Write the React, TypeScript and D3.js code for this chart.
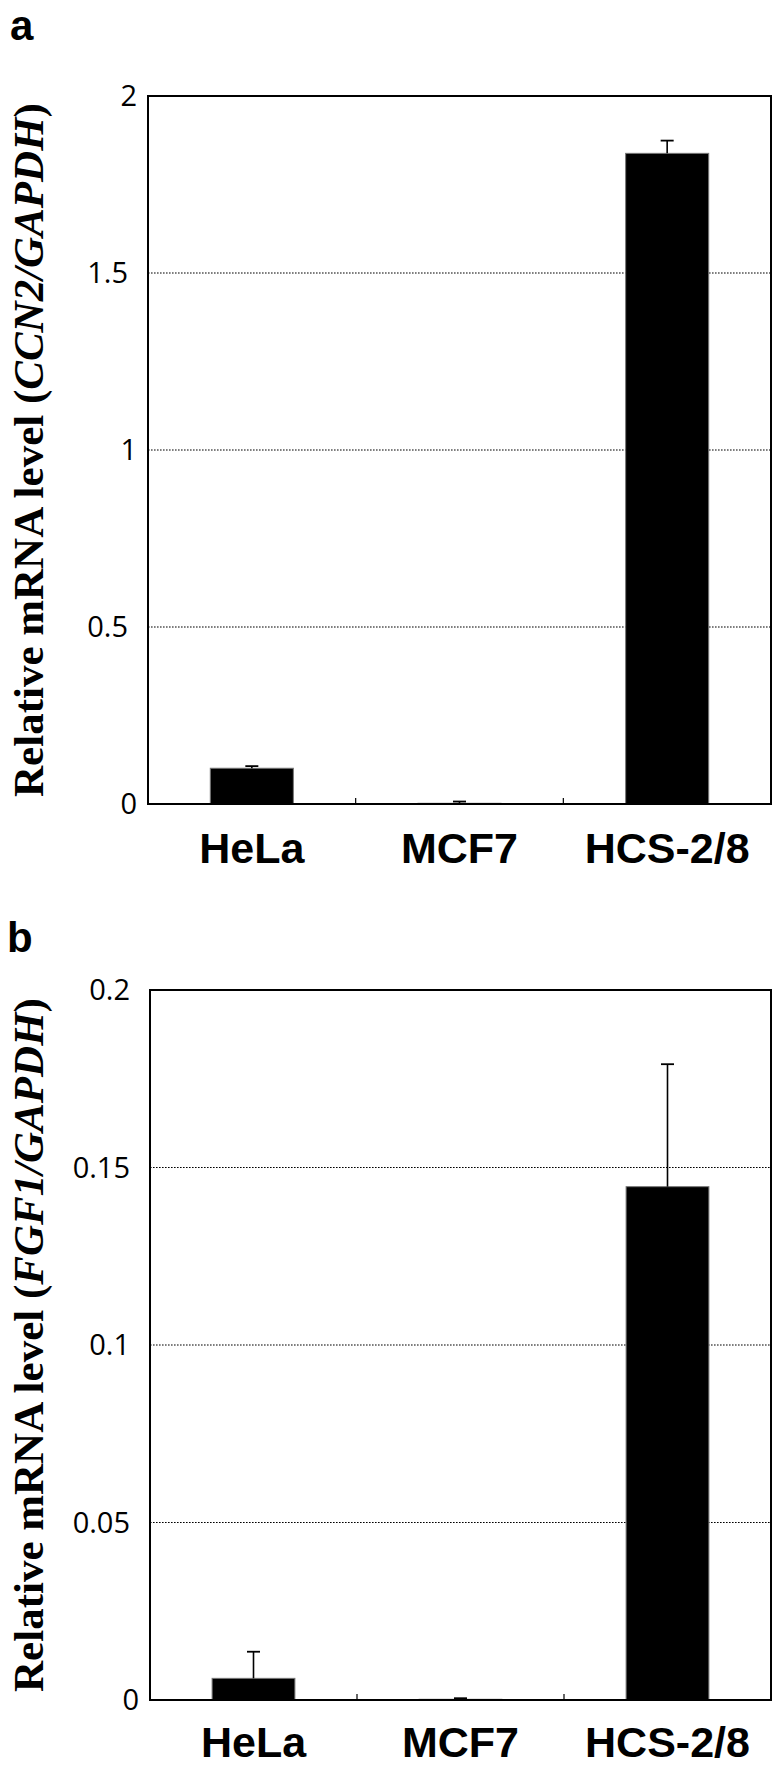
import { useEffect, useRef } from 'react'
import * as d3 from 'd3'

const categories = ['HeLa', 'MCF7', 'HCS-2/8']

const ccn2Values = [0.101, 0.002, 1.838]
const ccn2Errors = [0.006, 0.005, 0.036]
const ccn2Ticks = [0, 0.5, 1, 1.5, 2]

const fgf1Values = [0.0061, 0.0002, 0.1446]
const fgf1Errors = [0.0075, 0.0003, 0.0345]
const fgf1Ticks = [0, 0.05, 0.1, 0.15, 0.2]

const W = 773
const H = 1774

type PanelOpts = {
  letter: string
  letterX: number
  letterY: number
  gene: string
  values: number[]
  errors: number[]
  ticks: number[]
  left: number
  right: number
  top: number
  bottom: number
  labelY: number
}

const drawPanel = (root: d3.Selection<SVGSVGElement, unknown, null, undefined>, o: PanelOpts) => {
  const g = root.append('g')

  const x = d3.scaleBand<string>()
    .domain(categories)
    .range([o.left, o.right])
    .paddingInner(0.6)
    .paddingOuter(0.3)

  const y = d3.scaleLinear()
    .domain([0, d3.max(o.ticks) as number])
    .range([o.bottom, o.top])

  // panel letter
  g.append('text')
    .attr('x', o.letterX)
    .attr('y', o.letterY)
    .attr('font-family', 'Liberation Sans, Arial, sans-serif')
    .attr('font-weight', 'bold')
    .attr('font-size', 42)
    .text(o.letter)

  // dotted gridlines
  g.selectAll('line.grid')
    .data(o.ticks.slice(1, -1))
    .enter()
    .append('line')
    .attr('class', 'grid')
    .attr('x1', o.left)
    .attr('x2', o.right)
    .attr('y1', d => y(d))
    .attr('y2', d => y(d))
    .attr('stroke', '#000')
    .attr('stroke-width', 1.2)
    .attr('stroke-dasharray', '1.6,1.4')

  // y tick labels
  g.selectAll('text.ytick')
    .data(o.ticks)
    .enter()
    .append('text')
    .attr('class', 'ytick')
    .attr('x', d => String(d).includes('.') ? o.left - 20 : o.left - 11)
    .attr('y', d => y(d))
    .attr('dy', '0.36em')
    .attr('text-anchor', 'end')
    .attr('font-family', 'Open Sans, sans-serif')
    .attr('font-size', 29)
    .text(d => String(d))

  // bars
  g.selectAll('rect.bar')
    .data(o.values)
    .enter()
    .append('rect')
    .attr('class', 'bar')
    .attr('x', (_, i) => x(categories[i]) as number)
    .attr('width', x.bandwidth())
    .attr('y', d => y(d))
    .attr('height', d => o.bottom - y(d))
    .attr('fill', '#000')
    .attr('stroke', '#777')
    .attr('stroke-width', 1)

  // error bars (upper only)
  o.values.forEach((v, i) => {
    const cx = (x(categories[i]) as number) + x.bandwidth() / 2
    g.append('line')
      .attr('x1', cx).attr('x2', cx)
      .attr('y1', y(v)).attr('y2', y(v + o.errors[i]))
      .attr('stroke', '#000')
      .attr('stroke-width', 1.6)
    g.append('line')
      .attr('x1', cx - 6.5).attr('x2', cx + 6.5)
      .attr('y1', y(v + o.errors[i])).attr('y2', y(v + o.errors[i]))
      .attr('stroke', '#000')
      .attr('stroke-width', 1.8)
  })

  // frame
  g.append('rect')
    .attr('x', o.left)
    .attr('y', o.top)
    .attr('width', o.right - o.left)
    .attr('height', o.bottom - o.top)
    .attr('fill', 'none')
    .attr('stroke', '#000')
    .attr('stroke-width', 2)

  // category divider ticks on the x axis
  g.selectAll('line.xtick')
    .data(categories.slice(1))
    .enter()
    .append('line')
    .attr('class', 'xtick')
    .attr('x1', d => (x(d) as number) - x.step() * 0.3)
    .attr('x2', d => (x(d) as number) - x.step() * 0.3)
    .attr('y1', o.bottom)
    .attr('y2', o.bottom - 6)
    .attr('stroke', '#000')
    .attr('stroke-width', 1.2)

  // category labels
  g.selectAll('text.xlabel')
    .data(categories)
    .enter()
    .append('text')
    .attr('class', 'xlabel')
    .attr('x', d => (x(d) as number) + x.bandwidth() / 2)
    .attr('y', o.labelY)
    .attr('text-anchor', 'middle')
    .attr('font-family', 'Liberation Sans, Arial, sans-serif')
    .attr('font-weight', 'bold')
    .attr('font-size', 43)
    .text(d => d)

  // y axis title
  const title = g.append('text')
    .attr('transform', `translate(43,${(o.top + o.bottom) / 2}) rotate(-90)`)
    .attr('text-anchor', 'middle')
    .attr('font-family', 'Liberation Serif, Times New Roman, serif')
    .attr('font-weight', 'bold')
    .attr('font-size', 43)
  title.append('tspan').text('Relative mRNA level (')
  title.append('tspan').attr('font-style', 'italic').text(`${o.gene}/GAPDH`)
  title.append('tspan').text(')')
}

const App = () => {
  const svgRef = useRef<SVGSVGElement>(null)

  useEffect(() => {
    const svg = d3.select(svgRef.current as SVGSVGElement)
    svg.selectAll('*').remove()
    svg.append('rect').attr('width', W).attr('height', H).attr('fill', '#fff')

    drawPanel(svg, {
      letter: 'a', letterX: 10, letterY: 40, gene: 'CCN2',
      values: ccn2Values, errors: ccn2Errors, ticks: ccn2Ticks,
      left: 148, right: 771, top: 96, bottom: 804, labelY: 863
    })

    drawPanel(svg, {
      letter: 'b', letterX: 7, letterY: 952, gene: 'FGF1',
      values: fgf1Values, errors: fgf1Errors, ticks: fgf1Ticks,
      left: 150, right: 771, top: 990, bottom: 1700, labelY: 1757
    })
  }, [])

  return (
    <svg
      ref={svgRef}
      width={W}
      height={H}
      style={{ position: 'absolute', left: 0, top: 0 }}
    ></svg>
  )
}

export default App
